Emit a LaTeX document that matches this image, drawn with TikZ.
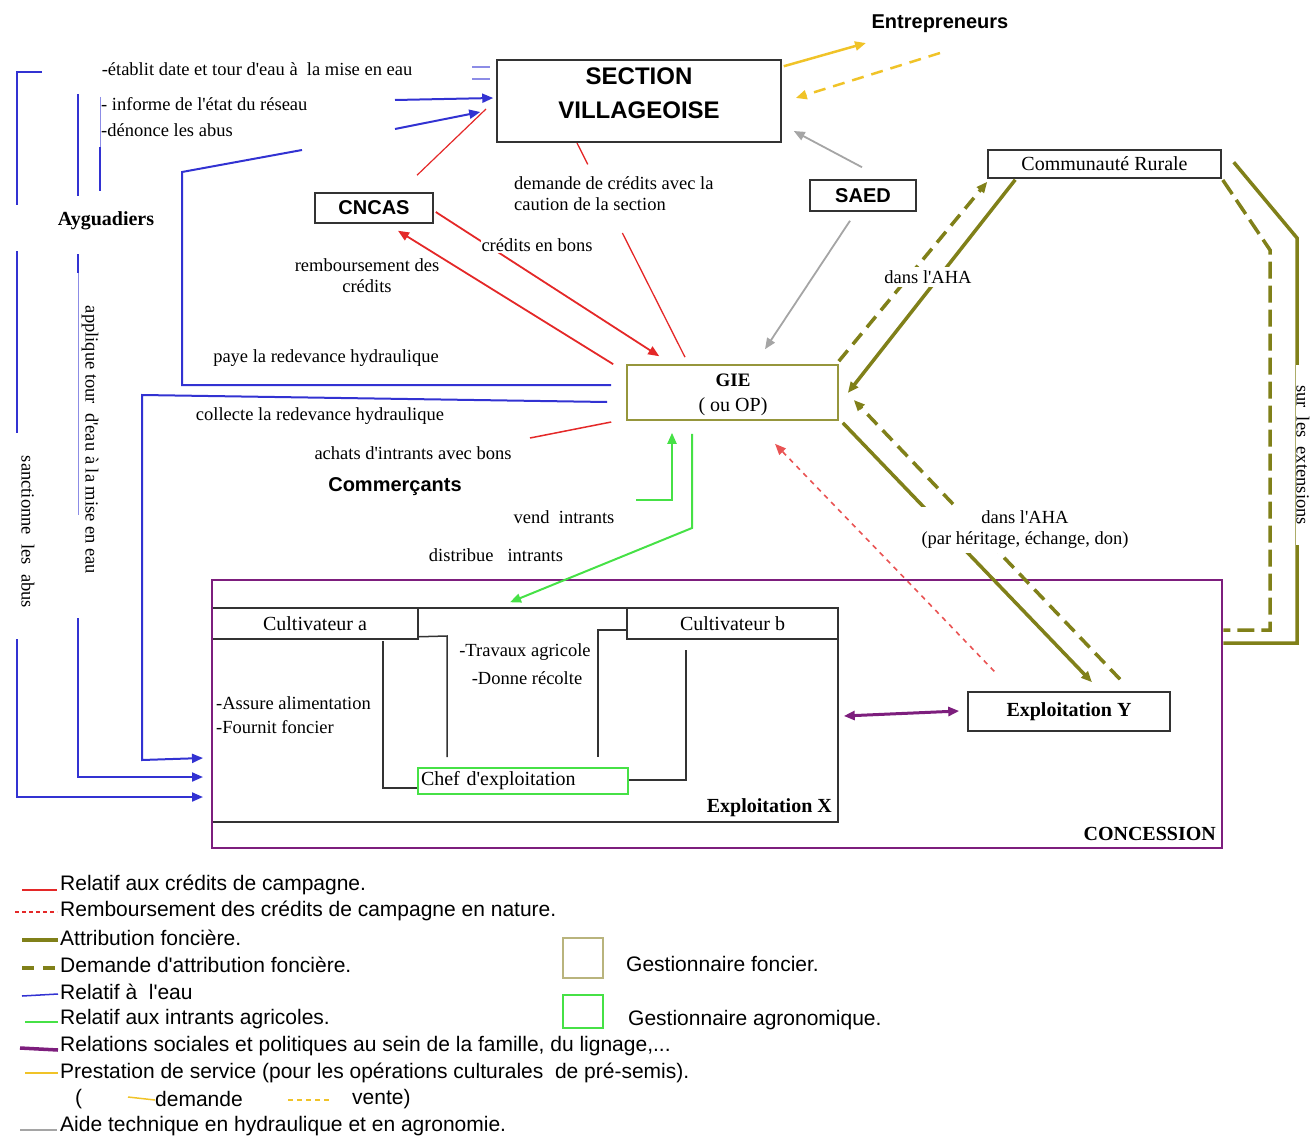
\documentclass[tikz,border=0pt]{standalone}
\usepackage{fontspec}
\setmainfont{Liberation Serif}
\newfontfamily\timesf{Liberation Serif}
\newfontfamily\arialf{Liberation Sans}
\usetikzlibrary{arrows.meta,calc}
\definecolor{cred}{RGB}{228,40,40}
\definecolor{cblue}{RGB}{50,50,210}
\definecolor{cblueL}{RGB}{140,140,230}
\definecolor{colive}{RGB}{128,128,25}
\definecolor{cgreen}{RGB}{70,225,70}
\definecolor{cpurple}{RGB}{125,30,125}
\definecolor{cyellow}{RGB}{240,195,40}
\definecolor{cgrey}{RGB}{165,165,165}
\definecolor{cgie}{RGB}{150,150,60}
\definecolor{ctan}{RGB}{185,180,125}
\begin{document}
\begin{tikzpicture}[x=1pt,y=-1pt,
  ser/.style={font=\fontsize{18.5}{21}\selectfont\timesf, inner sep=1pt},
  serbig/.style={font=\fontsize{20}{23}\selectfont\timesf, inner sep=1pt},
  serb/.style={font=\fontsize{20}{23}\selectfont\timesf\bfseries, inner sep=1pt},
  sansb/.style={font=\fontsize{20}{24}\selectfont\arialf\bfseries, inner sep=1pt},
  leg/.style={font=\fontsize{21}{24}\selectfont\arialf, anchor=west, inner sep=0pt},
  gap/.style={fill=white, inner sep=3pt},
  bbox/.style={draw=black!80, line width=1.5pt, inner sep=0pt},
  tip/.style={-{Triangle[length=11pt,width=9pt]}},
  water/.style={cblue, line width=2pt},
  wthin/.style={cblueL, line width=0.8pt},
  credit/.style={cred, line width=1.8pt},
  land/.style={colive, line width=3.5pt},
  landdash/.style={colive, line width=3.5pt, dash pattern=on 14pt off 8pt},
  inner/.style={black!80, line width=1.5pt},
  greenl/.style={cgreen, line width=2pt},
  greyl/.style={cgrey, line width=1.8pt},
  yell/.style={cyellow, line width=2.5pt}
]
\path[use as bounding box] (0,0) rectangle (1313,1137);

% ---------- main boxes ----------
\node[bbox, minimum width=284pt, minimum height=82pt] (sv) at (639,101) {};
\node[font=\fontsize{24}{34}\selectfont\arialf\bfseries, align=center, inner sep=0pt] (svt) at (639,93) {SECTION\\VILLAGEOISE};
\node[sansb] (entr) at (940,24) {Entrepreneurs};
\node[bbox, sansb, inner sep=0pt, minimum width=118pt, minimum height=30pt] (cncas) at (374,208) {CNCAS};
\node[bbox, sansb, inner sep=0pt, minimum width=106pt, minimum height=31pt] (saed) at (863,195.5) {SAED};
\node[bbox, serbig, inner sep=0pt, minimum width=233pt, minimum height=28pt] (cr) at (1104.5,164) {Communauté Rurale};
\node[draw=cgie, line width=1.6pt, minimum width=211pt, minimum height=55pt, inner sep=0pt] (gie) at (732.5,392.5) {};
\node[font=\fontsize{19}{22}\selectfont\timesf\bfseries, inner sep=0pt] (giet) at (733,380) {GIE};
\node[serbig] (giet2) at (733,407) {( ou OP)};

% exploitation X and concession
\node[bbox, minimum width=626pt, minimum height=214pt] (expx) at (525,715) {};
\node[bbox, serbig, minimum width=206pt, minimum height=31pt] (ca) at (315,623.5) {Cultivateur a};
\node[bbox, serbig, minimum width=211pt, minimum height=31pt] (cb) at (732.5,623.5) {Cultivateur b};
\node[draw=cgreen, line width=1.6pt, serbig, inner xsep=3pt, inner ysep=0pt, text width=204pt, align=left, minimum height=26pt] (chef) at (523,781) {Chef d'exploitation};
\node[draw=cpurple, line width=2.8pt, minimum width=1010pt, minimum height=268pt, inner sep=0pt] (conc) at (717,714) {};
\node[bbox, serb, minimum width=202pt, minimum height=39pt] (expy) at (1069,711.5) {Exploitation Y};

\node[ser] (tr1) at (525,652) {-Travaux agricole};
\node[ser] (tr2) at (527,678) {-Donne récolte};
\node[ser, anchor=west] (as1) at (215,703) {-Assure alimentation};
\node[ser, anchor=west] (as2) at (215,727) {-Fournit foncier};
\node[serb, anchor=east] (expxl) at (833,808) {Exploitation X};
\node[serb, anchor=east] (concl) at (1217,834) {CONCESSION};

% inner links
\draw[inner] ($(ca.south east)+(0,-3)$) -- (447,636) -- (447,757);
\draw[inner] (383,641) -- (383,788) -- ($(chef.west)+(0,7)$);
\draw[inner] ($(cb.west)+(0,6.5)$) -- (598,630) -- (598,757);
\draw[inner] (686,650) -- (686,780) -- ($(chef.east)+(0,-1)$);

% ---------- texts ----------
\node[ser] (t_etab) at (257,69) {-établit date et tour d'eau à\ \ la mise en eau};
\node[ser, anchor=west] (t_inf) at (100,104) {- informe de l'état du réseau};
\node[ser, anchor=west] (t_den) at (100,130) {-dénonce les abus};
\node[serb] (aygu) at (106,221) {Ayguadiers};
\node[ser, rotate=-90] (t_appl) at (90,440) {applique tour\ \ d'eau à la mise en eau};
\node[ser, rotate=-90] (t_sanc) at (28,532) {sanctionne\ \ les\ \ abus};
\node[ser, align=center] (t_remb) at (367,276) {remboursement des\\crédits};
\node[ser] (t_paye) at (326,358) {paye la redevance hydraulique};
\node[ser] (t_coll) at (320,416) {collecte la redevance hydraulique};
\node[ser] (t_ach) at (413,453) {achats d'intrants avec bons};
\node[sansb] (comm) at (395,487) {Commerçants};
\node[ser] (t_vend) at (564,517) {vend\ \ intrants};
\node[ser] (t_dist) at (496,555) {distribue\ \ \ intrants};

% ---------- blue (water) ----------
\coordinate (t1) at (203,758);
\coordinate (t2) at (203,777);
\coordinate (t3) at (203,797);
\draw[water] (42,72) -- (17,72) -- (17,205) (17,251) -- (17,433);
\draw[water,tip] (17,639) -- (17,797) -- (t3);
\draw[water] (78,94) -- (78,196) (78,254) -- (78,273);
\draw[wthin] (78,273) -- (78,515);
\draw[water,tip] (78,618) -- (78,777) -- (t2);
\draw[wthin] (100,97) -- (100,147);
\draw[water] (100,147) -- (100,191);
\draw[water] (302,150) -- (182,172) -- (182,385) -- ($(gie.west)+(-15,-7.5)$);
\draw[water,tip] ($(gie.west)+(-19,9.5)$) -- (142,395) -- (142,760) -- (t1);
\draw[water,tip] (395,100) -- ($(sv.west)+(-3,-3)$);
\draw[water,tip] (395,129) -- ($(sv.west)+(-16,11)$);
\draw[cblueL, line width=1.8pt] (472,67) -- (490,67) (472,79) -- (490,79);

% ---------- red (credits) ----------
\draw[cred, line width=1.2pt] ($(cncas.north)+(43,-17)$) -- (486,109);
\coordinate (dA) at (577,143);
\coordinate (dB) at ($(gie.north)+(-47.5,-7)$);
\draw[cred, line width=1.3pt] (dA) -- ($(dA)!0.1!(dB)$) ($(dA)!0.42!(dB)$) -- (dB);
\draw[credit,tip] ($(cncas.east)+(2,4)$) -- ($(gie.north west)+(33,-8)$);
\draw[credit,tip] ($(gie.north west)+(-13,0)$) -- ($(cncas.south)+(24,7)$);
\draw[cred, line width=1.5pt] (530,438) -- ($(gie.west)+(-15,29.5)$);
\node[ser, gap, inner sep=1pt] (t_bons) at (537,245) {crédits en bons};
\node[ser, align=left, anchor=west] (t_dem) at (513,194) {demande de crédits avec la\\caution de la section};

% ---------- grey ----------
\draw[greyl,tip] ($(saed.north)+(-1,-12)$) -- ($(sv.east)+(12,30)$);
\draw[greyl,tip] ($(saed.south)+(-13,9)$) -- ($(gie.north)+(32.5,-15)$);

% ---------- yellow ----------
\coordinate (ye1) at (866,43);
\coordinate (ye2) at (940,53);
\draw[yell,tip] ($(sv.north east)+(2,7)$) -- (ye1);
\draw[yell, dash pattern=on 12pt off 8pt, tip] (ye2) -- ($(sv.east)+(14,-3)$);

% ---------- olive (land) ----------
\draw[land,tip] ($(cr.south west)+(28,1)$) -- ($(gie.east)+(9,0.5)$);
\draw[landdash,tip] ($(gie.north east)+(0,-3)$) -- ($(cr.south west)+(0,3)$);
\draw[land,tip] ($(gie.south east)+(4,2)$) -- ($(expy.north)+(23,-9)$);
\draw[landdash,tip] ($(expy.north)+(51,-12)$) -- ($(gie.east)+(15,7.5)$);
\draw[land] ($(cr.north east)+(12,13)$) -- (1297,238) -- (1297,643) -- ($(conc.east)+(0,-71)$);
\draw[colive, line width=3.5pt, dash pattern=on 17pt off 7pt] ($(cr.east)+(1,16)$) -- (1270,250) -- (1270,630) -- ($(conc.east)+(0,-84)$);
\node[ser, gap] (t_aha1) at (928,277) {dans l'AHA};
\node[ser, gap, align=center, inner ysep=4pt] (t_aha2) at (1025,530) {dans l'AHA\\(par héritage, échange, don)};
\node[ser, gap, rotate=-90, inner xsep=20pt, inner ysep=1pt] (t_ext) at (1303,455) {sur\ \ les\ \ extensions};

% ---------- green ----------
\draw[greenl,tip] (636,500) -- (672,500) -- ($(gie.south)+(-60.5,12)$);
\draw[greenl,tip] ($(gie.south)+(-40.5,13)$) -- (692,528) -- ($(expx.north)+(-15,-5)$);

% ---------- purple ----------
\draw[cpurple, line width=3pt, {Triangle[length=11pt,width=9pt]}-{Triangle[length=11pt,width=9pt]}] ($(expx.east)+(5,1)$) -- ($(expy.west)+(-8,-0.5)$);

% ---------- red dashed ----------
\draw[cred!80, line width=1.6pt, dash pattern=on 5pt off 5pt, tip] ($(expy.north west)+(27,-20)$) -- ($(gie.south)+(42.5,23)$);

% ---------- legend ----------
\node[leg] (l1) at (60,885) {Relatif aux crédits de campagne.};
\node[leg] (l2) at (60,911) {Remboursement des crédits de campagne en nature.};
\node[leg] (l3) at (60,938) {Attribution foncière.};
\node[leg] (l4) at (60,965) {Demande d'attribution foncière.};
\node[leg] (l5) at (60,992) {Relatif à\ \ l'eau};
\node[leg] (l6) at (60,1019) {Relatif aux intrants agricoles.};
\node[leg] (l7) at (60,1046) {Relations sociales et politiques au sein de la famille, du lignage,...};
\node[leg] (l8) at (60,1073) {Prestation de service (pour les opérations culturales\ \ de pré-semis).};
\node[leg] (l9a) at (75,1099) {(};
\node[leg] (l9b) at (155,1099) {demande};
\node[leg] (l9c) at (352,1099) {vente)};
\node[leg] (l10) at (60,1126) {Aide technique en hydraulique et en agronomie.};

\draw[cred, line width=1.4pt] ($(l1.west)+(-38,5)$) -- ($(l1.west)+(-3,5)$);
\draw[cred, line width=1.4pt, dash pattern=on 4pt off 3pt] ($(l2.west)+(-45,1)$) -- ($(l2.west)+(-3,1)$);
\draw[colive, line width=3.5pt] ($(l3.west)+(-38,2)$) -- ($(l3.west)+(-2,2)$);
\draw[colive, line width=3.5pt, dash pattern=on 12pt off 9pt] ($(l4.west)+(-38,3)$) -- ($(l4.west)+(-2,3)$);
\draw[cblue, line width=1.5pt] ($(l5.west)+(-38,4)$) -- ($(l5.west)+(-2,2)$);
\draw[cgreen, line width=1.5pt] ($(l6.west)+(-35,3)$) -- ($(l6.west)+(-2,3)$);
\draw[cpurple, line width=3.5pt] ($(l7.west)+(-40,2)$) -- ($(l7.west)+(-2,4)$);
\draw[cyellow, line width=1.5pt] ($(l8.west)+(-35,0)$) -- ($(l8.west)+(-2,0)$);
\draw[cyellow, line width=1.5pt] ($(l9b.west)+(-27,-2)$) -- ($(l9b.west)+(0,1)$);
\draw[cyellow, line width=1.5pt, dash pattern=on 5pt off 4pt] ($(l9c.west)+(-64,1)$) -- ($(l9c.west)+(-22,1)$);
\draw[cgrey, line width=1.5pt] ($(l10.west)+(-40,4)$) -- ($(l10.west)+(-3,4)$);

\node[draw=ctan, line width=2pt, minimum width=40pt, minimum height=40pt, inner sep=0pt] (lb1) at (583,958) {};
\node[leg, anchor=west] (lb1t) at (626,964) {Gestionnaire foncier.};
\node[draw=cgreen, line width=2pt, minimum width=40pt, minimum height=33pt, inner sep=0pt] (lb2) at (583,1011.5) {};
\node[leg, anchor=west] (lb2t) at (628,1020) {Gestionnaire agronomique.};
\end{tikzpicture}
\end{document}
